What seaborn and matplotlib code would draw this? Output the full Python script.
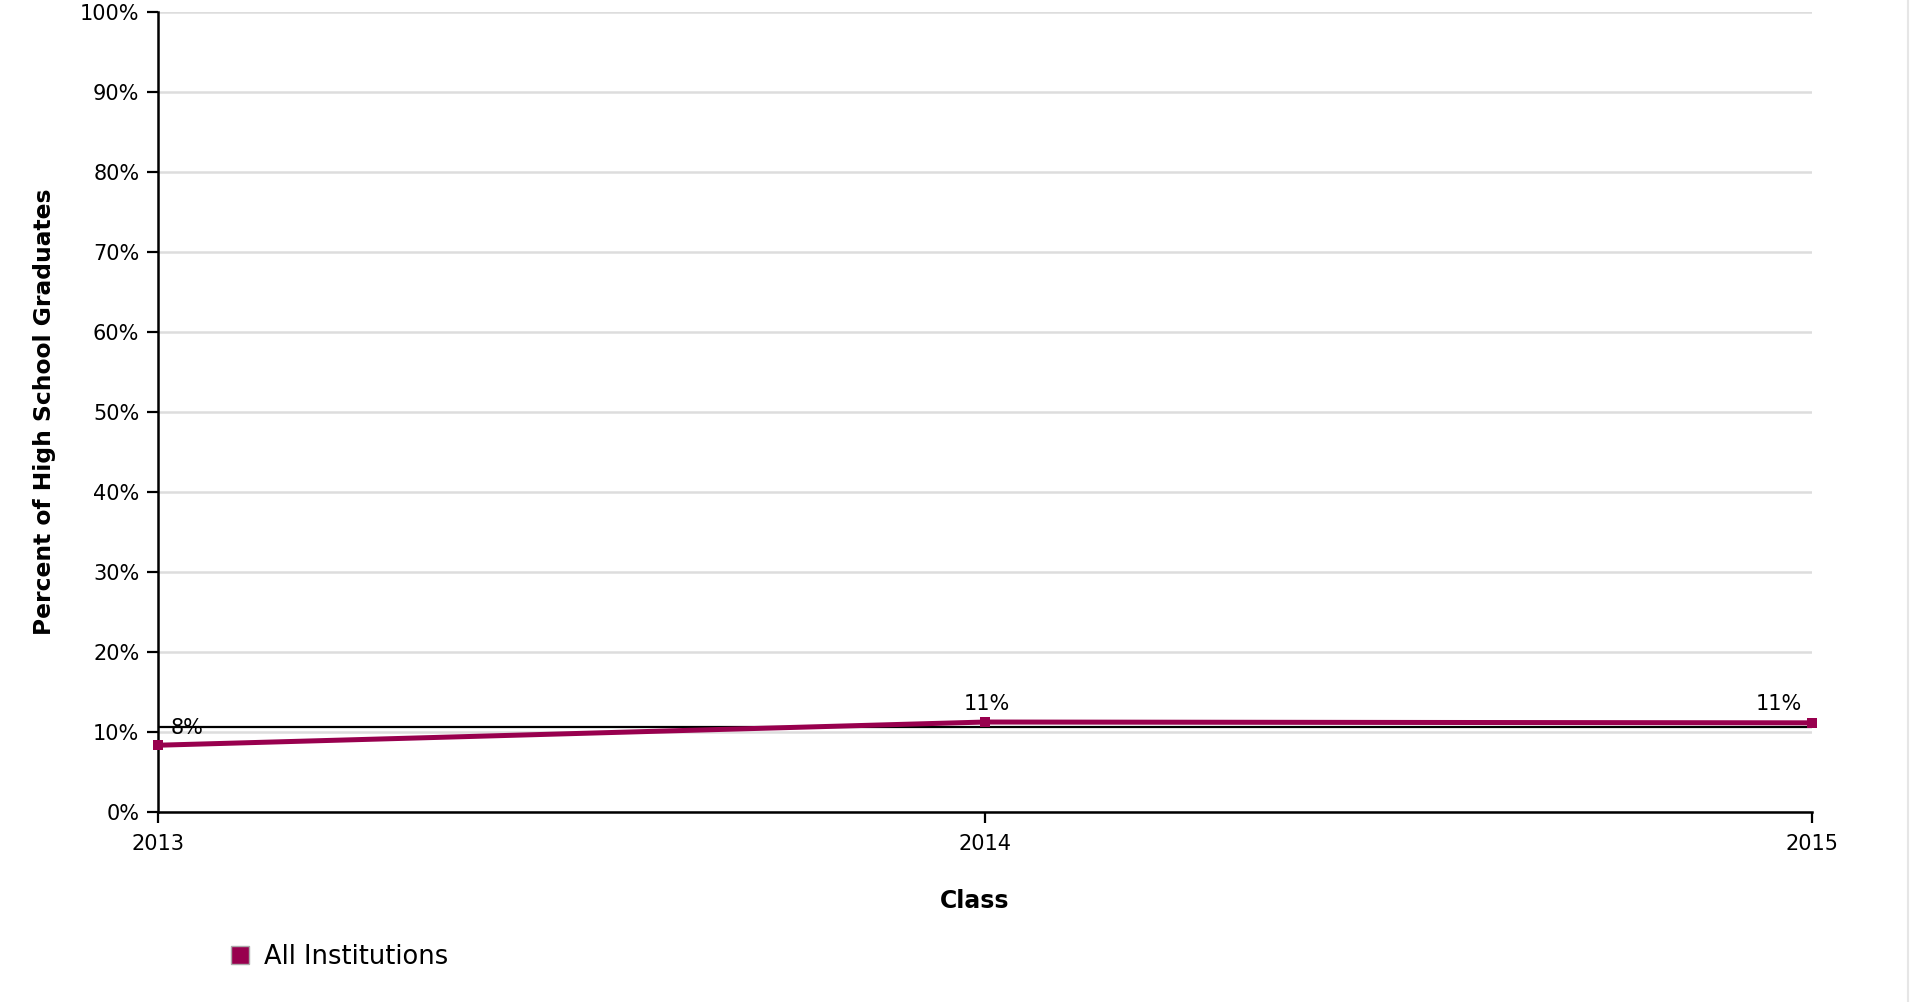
import matplotlib
matplotlib.use("Agg")
import matplotlib.pyplot as plt
import seaborn as sns
import pandas as pd
from matplotlib.patches import Patch
from matplotlib.lines import Line2D

classes = [2013, 2014, 2015]
pct_all = [8.3, 11.2, 11.1]
value_labels = ["8%", "11%", "11%"]
reference_value = 10.6
series_name = "All Institutions"
y_ticks = [0, 10, 20, 30, 40, 50, 60, 70, 80, 90, 100]
y_tick_labels = [f"{v}%" for v in y_ticks]

sns.set_theme(style="white")
plt.rcParams['font.family'] = ['DejaVu Sans']
plt.rcParams['text.color'] = 'black'
plt.rcParams['axes.labelcolor'] = 'black'
plt.rcParams['xtick.color'] = 'black'
plt.rcParams['ytick.color'] = 'black'

color = "#98004e"
df = pd.DataFrame({"Class": classes, "Pct": pct_all, "Series": series_name})

fig = plt.figure(figsize=(19.11, 10.02), dpi=100)
ax = fig.add_axes([0.0827, 0.19, 0.8655, 0.7983])

for v in y_ticks:
    ax.axhline(v, color="#dddddd", lw=1.8, zorder=0)
ax.axhline(reference_value, color="black", lw=1.6, zorder=1)

sns.lineplot(data=df, x="Class", y="Pct", ax=ax, color=color, linewidth=3.6,
             marker="s", markersize=6.5, markeredgewidth=0, legend=False, zorder=3,
             clip_on=False)

ax.set_xlim(classes[0], classes[-1])
ax.set_ylim(0, 100)
ax.set_xticks(classes)
ax.set_xticklabels([str(c) for c in classes], fontsize=15)
ax.set_yticks(y_ticks)
ax.set_yticklabels(y_tick_labels, fontsize=15)
ax.tick_params(axis="both", direction="out", length=8, width=1.6, color="black",
               bottom=True, left=True, labelcolor="black")
ax.tick_params(axis="y", pad=5.5)
ax.tick_params(axis="x", pad=8)

for s in ["top", "right"]:
    ax.spines[s].set_visible(False)
for s in ["left", "bottom"]:
    ax.spines[s].set_color("black")
    ax.spines[s].set_linewidth(1.8)

ax.set_xlabel("Class", fontsize=17, fontweight="bold", labelpad=25, color="black")
ax.xaxis.label.set_x(0.494)
ax.set_ylabel("Percent of High School Graduates", fontsize=16.8, fontweight="bold",
              labelpad=17, color="black")

for i, (x, y, lab) in enumerate(zip(classes, pct_all, value_labels)):
    if i == 0:
        ax.annotate(lab, (x, y), xytext=(9, 5), textcoords="offset points",
                    ha="left", va="bottom", fontsize=15, color="black")
    elif i == len(classes) - 1:
        ax.annotate(lab, (x, y), xytext=(-7, 6), textcoords="offset points",
                    ha="right", va="bottom", fontsize=15, color="black")
    else:
        ax.annotate(lab, (x, y), xytext=(1, 6), textcoords="offset points",
                    ha="center", va="bottom", fontsize=15, color="black")

handle = Patch(facecolor=color, edgecolor="#aaaaaa", linewidth=1)
fig.legend([handle], [series_name], loc="center left", bbox_to_anchor=(0.109, 0.045),
           frameon=False, fontsize=18.5, handlelength=0.7, handleheight=0.7,
           handletextpad=0.55, labelcolor="black")

fig.add_artist(Line2D([0.9985, 0.9985], [0, 1], transform=fig.transFigure,
                      color="#e6e6e6", lw=1.5))

fig.savefig("out.png", dpi=100, facecolor="white")
